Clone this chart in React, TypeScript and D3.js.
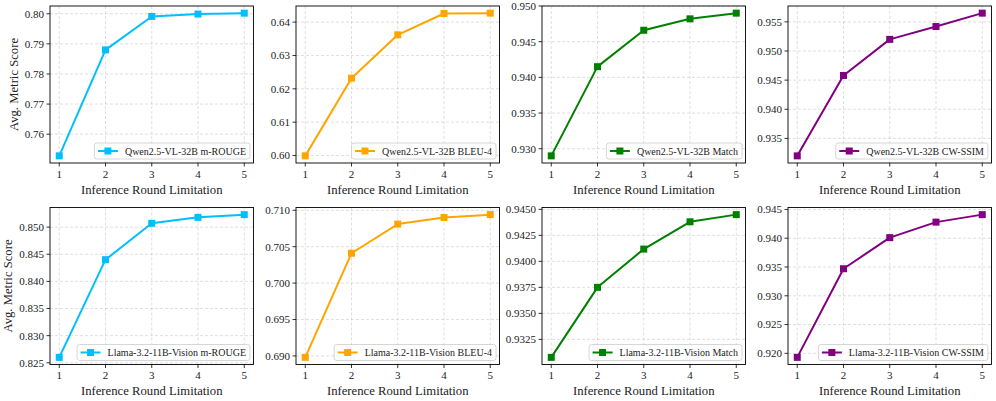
import React from 'react';
import * as d3 from 'd3';

const rounds = [1, 2, 3, 4, 5];

const qwenRouge = [0.7528, 0.788, 0.7991, 0.7999, 0.8002];
const qwenBleu = [0.5999, 0.6232, 0.6362, 0.6426, 0.6427];
const qwenMatch = [0.929, 0.9415, 0.9466, 0.9482, 0.949];
const qwenSsim = [0.932, 0.9458, 0.952, 0.9542, 0.9565];
const llamaRouge = [0.826, 0.844, 0.8507, 0.8518, 0.8523];
const llamaBleu = [0.6898, 0.7041, 0.7081, 0.709, 0.7094];
const llamaMatch = [0.93077, 0.9375, 0.94118, 0.9438, 0.94449];
const llamaSsim = [0.9193, 0.9347, 0.9401, 0.9428, 0.9441];

const ticksRougeQ = [0.76, 0.77, 0.78, 0.79, 0.8];
const ticksBleuQ = [0.6, 0.61, 0.62, 0.63, 0.64];
const ticksMatchQ = [0.93, 0.935, 0.94, 0.945, 0.95];
const ticksSsimQ = [0.935, 0.94, 0.945, 0.95, 0.955];
const ticksRougeL = [0.825, 0.83, 0.835, 0.84, 0.845, 0.85];
const ticksBleuL = [0.69, 0.695, 0.7, 0.705, 0.71];
const ticksMatchL = [0.9325, 0.935, 0.9375, 0.94, 0.9425, 0.945];
const ticksSsimL = [0.92, 0.925, 0.93, 0.935, 0.94, 0.945];

const legendLabels = [
  'Qwen2.5-VL-32B m-ROUGE',
  'Qwen2.5-VL-32B BLEU-4',
  'Qwen2.5-VL-32B Match',
  'Qwen2.5-VL-32B CW-SSIM',
  'Llama-3.2-11B-Vision m-ROUGE',
  'Llama-3.2-11B-Vision BLEU-4',
  'Llama-3.2-11B-Vision Match',
  'Llama-3.2-11B-Vision CW-SSIM',
];
const colors = ['#00BFFF', '#FFA500', '#008000', '#800080'];
const xLabel = 'Inference Round Limitation';
const yLabel = 'Avg. Metric Score';

const seriesList = [qwenRouge, qwenBleu, qwenMatch, qwenSsim, llamaRouge, llamaBleu, llamaMatch, llamaSsim];
const tickList = [ticksRougeQ, ticksBleuQ, ticksMatchQ, ticksSsimQ, ticksRougeL, ticksBleuL, ticksMatchL, ticksSsimL];
const decimals = [2, 2, 3, 3, 3, 3, 4, 3];

const W = 996;
const H = 401;
const FAM = 'Liberation Serif';
const fontStyle = { fontFamily: FAM };
const lefts = [50, 296, 542, 788];
const tops = [6, 207.5];
const PW = 203.5;
const PH = 157;
const tickFs = 11;
const labelFs = 12.7;
const legFs = 10;

function measure(text: string, fs: number): number {
  try {
    const c = document.createElement('canvas');
    const ctx = c.getContext('2d');
    if (ctx) {
      ctx.font = `${fs}px "${FAM}"`;
      return ctx.measureText(text).width;
    }
  } catch (e) {}
  return text.length * fs * 0.5;
}

function Panel({ idx }: { idx: number }) {
  const row = Math.floor(idx / 4);
  const col = idx % 4;
  const left = lefts[col];
  const top = tops[row];
  const vals = seriesList[idx];
  const color = colors[col];
  const x = d3.scaleLinear().domain([0.8, 5.2]).range([left, left + PW]);
  const [mn, mx] = d3.extent(vals) as [number, number];
  const pad = (mx - mn) * 0.05;
  const y = d3.scaleLinear().domain([mn - pad, mx + pad]).range([top + PH, top]);
  const line = d3.line<number>().x((_, i) => x(rounds[i])).y((d) => y(d));
  const ticks = tickList[idx];
  const fmt = d3.format(`.${decimals[idx]}f`);
  const label = legendLabels[idx];
  const tw = measure(label, legFs);
  const legH = 16;
  const legW = 3.5 + 20 + 7 + tw + 4;
  const legR = left + PW - 3.5;
  const legB = top + PH - 4;
  const legL = legR - legW;
  const legT = legB - legH;
  const ms = 7;
  const maxTickW = d3.max(ticks.map((t) => measure(fmt(t), tickFs))) || 20;
  return (
    <g>
      <g>
        {rounds.map((r) => (
          <line key={'gx' + r} x1={x(r)} x2={x(r)} y1={top} y2={top + PH} stroke="#b0b0b0" strokeOpacity={0.5} strokeWidth={0.8} strokeDasharray="3,2" />
        ))}
        {ticks.map((t) => (
          <line key={'gy' + t} x1={left} x2={left + PW} y1={y(t)} y2={y(t)} stroke="#b0b0b0" strokeOpacity={0.5} strokeWidth={0.8} strokeDasharray="3,2" />
        ))}
      </g>
      <path d={line(vals) || ''} fill="none" stroke={color} strokeWidth={2} strokeLinejoin="round" />
      {vals.map((v, i) => (
        <rect key={'m' + i} x={x(rounds[i]) - ms / 2} y={y(v) - ms / 2} width={ms} height={ms} fill={color} />
      ))}
      <rect x={left} y={top} width={PW} height={PH} fill="none" stroke="#000" strokeWidth={0.9} />
      {rounds.map((r) => (
        <g key={'tx' + r}>
          <line x1={x(r)} x2={x(r)} y1={top + PH} y2={top + PH + 3.5} stroke="#000" strokeWidth={0.8} />
          <text x={x(r)} y={top + PH + 14.5} textAnchor="middle" fontSize={tickFs} style={fontStyle} fill="#222">{r}</text>
        </g>
      ))}
      {ticks.map((t) => (
        <g key={'ty' + t}>
          <line x1={left - 3.5} x2={left} y1={y(t)} y2={y(t)} stroke="#000" strokeWidth={0.8} />
          <text x={left - 6} y={y(t)} dy="0.35em" textAnchor="end" fontSize={tickFs} style={fontStyle} fill="#222">{fmt(t)}</text>
        </g>
      ))}
      <text x={left + PW / 2} y={top + PH + 30.5} textAnchor="middle" fontSize={labelFs} style={fontStyle} fill="#222">{xLabel}</text>
      {col === 0 && (
        <text
          transform={`translate(${left - 6 - maxTickW - 7},${top + PH / 2}) rotate(-90)`}
          textAnchor="middle"
          fontSize={labelFs}
          style={fontStyle}
          fill="#222"
        >
          {yLabel}
        </text>
      )}
      <rect x={legL} y={legT} width={legW} height={legH} rx={2.5} fill="#fff" fillOpacity={0.8} stroke="#cccccc" strokeWidth={0.8} />
      <line x1={legL + 3.5} x2={legL + 23.5} y1={legT + legH / 2} y2={legT + legH / 2} stroke={color} strokeWidth={2} />
      <rect x={legL + 13.5 - ms / 2} y={legT + legH / 2 - ms / 2} width={ms} height={ms} fill={color} />
      <text x={legL + 30.5} y={legT + legH / 2} dy="0.35em" fontSize={legFs} style={fontStyle} fill="#222">{label}</text>
    </g>
  );
}

export default function App() {
  return (
    <svg width={W} height={H} style={{ display: 'block', position: 'absolute', left: 0, top: 0, background: '#fff' }}>
      <rect x={0} y={0} width={W} height={H} fill="#fff" />
      {seriesList.map((_, i) => (
        <Panel key={i} idx={i} />
      ))}
    </svg>
  );
}
